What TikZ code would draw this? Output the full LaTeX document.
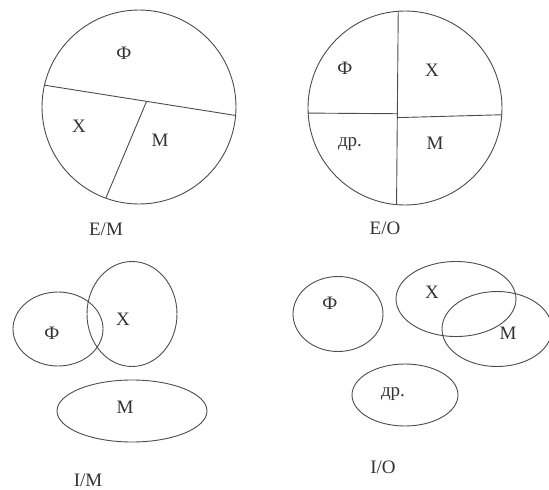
\documentclass[tikz,border=0pt]{standalone}
\usepackage{fontspec}
\setmainfont{Liberation Serif}
\usetikzlibrary{shapes.geometric,calc}
\begin{document}
\begin{tikzpicture}[x=1pt,y=-1pt,
  shapeline/.style={draw=black!70,line width=0.9pt,inner sep=0pt,outer sep=0pt},
  ring/.style={shapeline,circle,minimum size=#1},
  oval/.style n args={2}{shapeline,ellipse,minimum width=#1,minimum height=#2},
  divider/.style={draw=black!70,line width=0.9pt},
  lbl/.style={inner sep=0pt,text=black!80,font=\fontsize{19}{19}\selectfont}]
\useasboundingbox (0,0) rectangle (549,490);
% E/M
\node[ring=194pt] (c1) at (139,107) {};
\coordinate (j1) at ($(c1.167.5)!0.534!(c1.-5.4)$);
\draw[divider] (c1.167.5) -- (c1.-5.4);
\draw[divider] (j1) -- (c1.250);
\node[lbl] (f1) at (124,53) {Ф};
\node[lbl] (x1) at (79,126) {Х};
\node[lbl] (m1) at (160,140) {М};
\node[lbl] (t1) at (106,229) {E/M};
% E/O
\node[ring=194pt] (c2) at (405,108) {};
\coordinate (j2a) at ($(c2.94.7)!0.53!(c2.265.3)$);
\coordinate (j2b) at ($(c2.94.7)!0.55!(c2.265.3)$);
\draw[divider] (c2.94.7) -- (c2.265.3);
\draw[divider] (c2.183.5) -- (j2a);
\draw[divider] (j2b) -- (c2.-4.7);
\node[lbl] (f2) at (345,68) {Ф};
\node[lbl] (x2) at (432,70) {Х};
\node[lbl] (d2) at (350,144) {др.};
\node[lbl] (m2) at (435,143) {М};
\node[lbl] (t2) at (385,228) {E/O};
% I/M
\node[oval={90pt}{74pt}] (e1) at (58,329) {};
\node[oval={90pt}{105pt}] (e2) at (132,314) {};
\node[oval={150pt}{62pt}] (e3) at (132,411) {};
\node[lbl] (f3) at (52,333) {Ф};
\node[lbl] (x3) at (123,319) {Х};
\node[lbl] (m3) at (125,407) {М};
\node[lbl] (t3) at (88,480) {I/M};
% I/O
\node[oval={90pt}{75pt}] (e4) at (338,314) {};
\node[oval={120pt}{75pt}] (e5) at (456,299) {};
\node[oval={110pt}{75pt}] (e6) at (497,329) {};
\node[oval={106pt}{62pt}] (e7) at (405,395) {};
\node[lbl] (f4) at (330,303) {Ф};
\node[lbl] (x4) at (432,292) {Х};
\node[lbl] (m4) at (508,333) {М};
\node[lbl] (d4) at (393,394) {др.};
\node[lbl] (t4) at (383,467) {I/O};
\end{tikzpicture}
\end{document}
